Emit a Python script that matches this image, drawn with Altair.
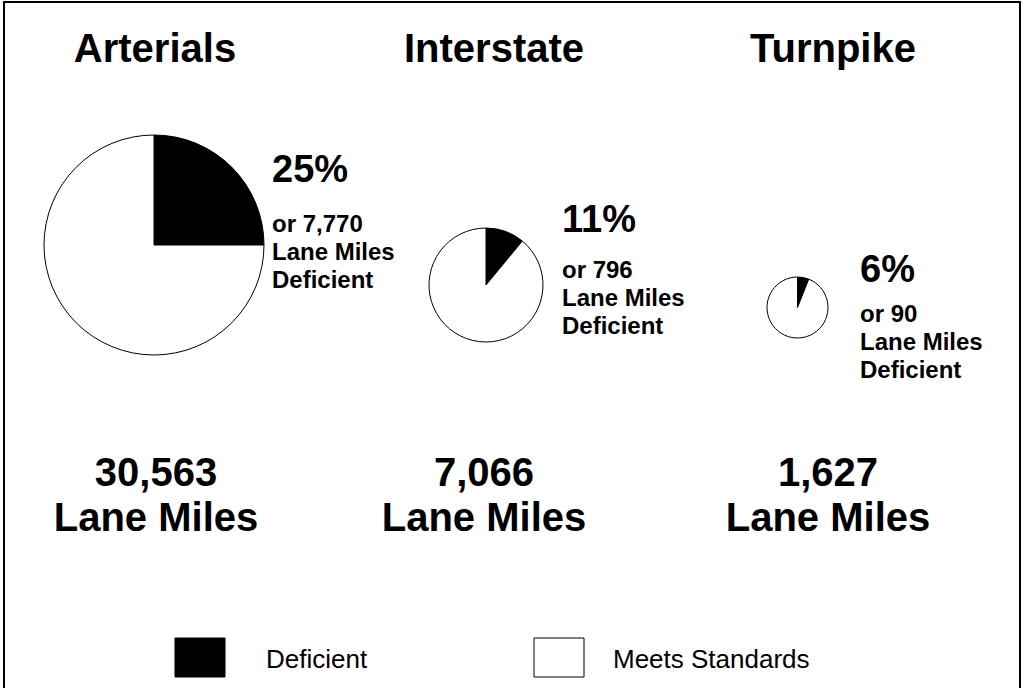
import altair as alt
import pandas as pd

# Lane-mile condition by road system
roads = ["Arterials", "Interstate", "Turnpike"]
total_lane_miles = [30563, 7066, 1627]
deficient_pct = [25, 11, 6]
deficient_lane_miles = [7770, 796, 90]
segments = ["Deficient", "Meets Standards"]
segment_colors = ["black", "white"]

# Layout (pixels)
W, H = 1024, 688
FONT = "Liberation Sans"
title_x = [155, 494, 833]
title_y = 62
pie_center = [(154, 245), (486, 285), (797.5, 307.5)]
pie_radius = [110, 57, 30.5]
pct_x = [272, 562, 860]
pct_y = [182, 232, 282]
note_y = [232, 278, 322]
total_x = [156, 484, 828]
total_y = 486
legend_box_x = [175, 534]
legend_text_x = [266, 613]
legend_top, legend_bottom = 638, 677

color_scale = alt.Scale(domain=segments, range=segment_colors)

layers = []

# Outer frame
frame = alt.Chart(pd.DataFrame({"k": [0]})).mark_rect(
    fill=None, stroke="black", strokeWidth=2
).encode(
    x=alt.value(4), x2=alt.value(1020), y=alt.value(2), y2=alt.value(H + 10)
)
layers.append(frame)

for i, road in enumerate(roads):
    pie_df = pd.DataFrame({
        "segment": segments,
        "pct": [deficient_pct[i], 100 - deficient_pct[i]],
        "order": [0, 1],
    })
    cx, cy = pie_center[i]
    pie = alt.Chart(pie_df).mark_arc(
        radius=pie_radius[i], stroke="black", strokeWidth=1
    ).encode(
        theta=alt.Theta("pct:Q", stack=True),
        color=alt.Color("segment:N", scale=color_scale, legend=None),
        order=alt.Order("order:Q"),
        x=alt.value(cx),
        y=alt.value(cy),
    )
    layers.append(pie)

    one = pd.DataFrame({"road": [road]})
    title = alt.Chart(one).mark_text(
        font=FONT, fontSize=40, fontWeight="bold", align="center",
        baseline="alphabetic", color="black"
    ).encode(text="road:N", x=alt.value(title_x[i]), y=alt.value(title_y))
    layers.append(title)

    pct = alt.Chart(one).mark_text(
        font=FONT, fontSize=38, fontWeight="bold", align="left",
        baseline="alphabetic", color="black"
    ).encode(text=alt.value(f"{deficient_pct[i]}%"),
             x=alt.value(pct_x[i]), y=alt.value(pct_y[i]))
    layers.append(pct)

    note = alt.Chart(one).mark_text(
        font=FONT, fontSize=24, fontWeight="bold", align="left",
        baseline="alphabetic", color="black", lineHeight=28
    ).encode(text=alt.value([f"or {deficient_lane_miles[i]:,}", "Lane Miles", "Deficient"]),
             x=alt.value(pct_x[i]), y=alt.value(note_y[i]))
    layers.append(note)

    total = alt.Chart(one).mark_text(
        font=FONT, fontSize=40, fontWeight="bold", align="center",
        baseline="alphabetic", color="black", lineHeight=45
    ).encode(text=alt.value([f"{total_lane_miles[i]:,}", "Lane Miles"]),
             x=alt.value(total_x[i]), y=alt.value(total_y))
    layers.append(total)

# Legend boxes and labels
for j, seg in enumerate(segments):
    box = alt.Chart(pd.DataFrame({"segment": [seg]})).mark_rect(
        stroke="black", strokeWidth=1
    ).encode(
        color=alt.Color("segment:N", scale=color_scale, legend=None),
        x=alt.value(legend_box_x[j]), x2=alt.value(legend_box_x[j] + 50),
        y=alt.value(legend_top), y2=alt.value(legend_bottom),
    )
    layers.append(box)
    label = alt.Chart(pd.DataFrame({"segment": [seg]})).mark_text(
        font=FONT, fontSize=26, align="left", baseline="middle", color="black"
    ).encode(text="segment:N", x=alt.value(legend_text_x[j]),
             y=alt.value((legend_top + legend_bottom) / 2 + 2))
    layers.append(label)

chart = alt.layer(*layers).properties(
    width=W, height=H, padding=0, autosize="none", background="white"
).configure_view(stroke=None)

chart.save("out.html", embed_options={"renderer": "svg", "actions": False})
